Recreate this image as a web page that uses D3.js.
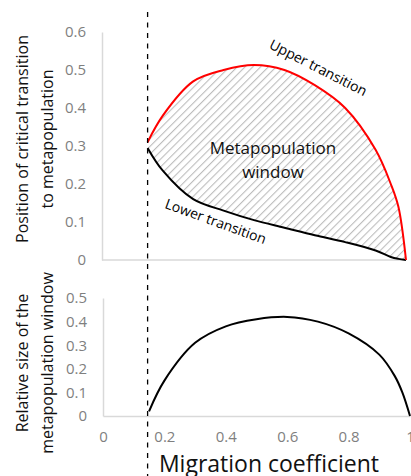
<!DOCTYPE html>
<html>
<head>
<meta charset="utf-8">
<script src="https://cdn.jsdelivr.net/npm/d3@7"></script>
<style>
  body { margin: 0; background: #fff; }
  svg { display: block; font-family: "Open Sans", sans-serif; }
</style>
</head>
<body>
<svg width="411" height="476"></svg>
<script>
// data
const migration = [0.15, 0.2, 0.3, 0.4, 0.5, 0.6, 0.7, 0.8, 0.9, 0.95, 0.975, 1.0];
const upperTransition = [0.31, 0.38, 0.47, 0.50, 0.513, 0.50, 0.46, 0.40, 0.29, 0.20, 0.14, 0.0];
const lowerTransition = [0.295, 0.235, 0.16, 0.13, 0.105, 0.085, 0.065, 0.047, 0.025, 0.008, 0.003, 0.0];
const windowSize = [0.02, 0.15, 0.31, 0.38, 0.41, 0.42, 0.40, 0.35, 0.26, 0.17, 0.10, 0.0];
const threshold = 0.15;

const topTicks = [0, 0.1, 0.2, 0.3, 0.4, 0.5, 0.6];
const bottomYTicks = [0, 0.1, 0.2, 0.3, 0.4, 0.5];
const bottomXTicks = [0, 0.2, 0.4, 0.6, 0.8, 1];

const svg = d3.select('svg');
const fmt = d3.format('~g');
const axisColor = '#d9d9d9';
const tickColor = '#7f7f7f';
const smooth = d3.curveCatmullRom.alpha(0.5);

// hatch pattern for the window
const pat = svg.append('defs').append('pattern')
    .attr('id', 'hatch')
    .attr('patternUnits', 'userSpaceOnUse')
    .attr('width', 5.5).attr('height', 5.5)
    .attr('patternTransform', 'rotate(45)');
pat.append('line')
    .attr('x1', 0).attr('y1', 0).attr('x2', 0).attr('y2', 5.5)
    .attr('stroke', '#bdbdbd').attr('stroke-width', 2.2);

// ---- top chart
const xTop = d3.scaleLinear().domain([0, 1]).range([102, 406]);
const yTop = d3.scaleLinear().domain([0, 0.6]).range([260, 32]);

const rows = migration.map((m, i) => ({m, up: upperTransition[i], lo: lowerTransition[i], w: windowSize[i]}));

svg.append('g')
    .attr('transform', 'translate(102,0)')
    .call(d3.axisLeft(yTop).tickValues(topTicks).tickFormat(fmt).tickSize(0).tickSizeOuter(0).tickPadding(16))
    .call(g => g.select('.domain').attr('stroke', axisColor).attr('stroke-width', 1.5))
    .call(g => g.selectAll('text').attr('fill', tickColor).attr('font-size', 15).attr('font-family', '"Open Sans", sans-serif'));

svg.append('line')
    .attr('x1', xTop(0)).attr('x2', xTop(1))
    .attr('y1', yTop(0)).attr('y2', yTop(0))
    .attr('stroke', axisColor).attr('stroke-width', 1.5);

const area = d3.area()
    .x(d => xTop(d.m))
    .y0(d => yTop(d.lo))
    .y1(d => yTop(d.up))
    .curve(smooth);

svg.append('path')
    .attr('d', area(rows))
    .attr('fill', 'url(#hatch)');

const upLine = d3.line().x(d => xTop(d.m)).y(d => yTop(d.up)).curve(smooth);
const loLine = d3.line().x(d => xTop(d.m)).y(d => yTop(d.lo)).curve(smooth);

svg.append('path').attr('d', loLine(rows))
    .attr('fill', 'none').attr('stroke', '#000').attr('stroke-width', 2);
svg.append('path').attr('d', upLine(rows))
    .attr('fill', 'none').attr('stroke', '#ff0000').attr('stroke-width', 2);

svg.append('text')
    .attr('transform', 'translate(316,72) rotate(27)')
    .attr('text-anchor', 'middle')
    .attr('font-size', 14)
    .text('Upper transition');

svg.append('text')
    .attr('transform', 'translate(214,226) rotate(20)')
    .attr('text-anchor', 'middle')
    .attr('font-size', 14)
    .text('Lower transition');

svg.append('text')
    .attr('x', 273).attr('y', 154)
    .attr('text-anchor', 'middle')
    .attr('font-size', 17)
    .attr('fill', '#111')
    .selectAll('tspan')
    .data(['Metapopulation', 'window']).enter()
    .append('tspan')
    .attr('x', 273)
    .attr('dy', (d, i) => i ? 24 : 0)
    .text(d => d);

svg.append('text')
    .attr('transform', 'translate(0,139) rotate(-90)')
    .attr('text-anchor', 'middle')
    .attr('font-size', 16)
    .attr('fill', '#111')
    .selectAll('tspan')
    .data(['Position of critical transition', 'to metapopulation']).enter()
    .append('tspan')
    .attr('x', 0)
    .attr('y', (d, i) => i ? 53 : 28)
    .text(d => d);

// ---- bottom chart
const xBot = d3.scaleLinear().domain([0, 1]).range([103, 410]);
const yBot = d3.scaleLinear().domain([0, 0.5]).range([416, 298]);

svg.append('g')
    .attr('transform', 'translate(103,0)')
    .call(d3.axisLeft(yBot).tickValues(bottomYTicks).tickFormat(fmt).tickSize(0).tickSizeOuter(0).tickPadding(16))
    .call(g => g.select('.domain').attr('stroke', axisColor).attr('stroke-width', 1.5))
    .call(g => g.selectAll('text').attr('fill', tickColor).attr('font-size', 15).attr('font-family', '"Open Sans", sans-serif'));

svg.append('g')
    .attr('transform', 'translate(0,416)')
    .call(d3.axisBottom(xBot).tickValues(bottomXTicks).tickFormat(fmt).tickSize(0).tickSizeOuter(0).tickPadding(15))
    .call(g => g.select('.domain').attr('stroke', axisColor).attr('stroke-width', 1.5))
    .call(g => g.selectAll('text').attr('fill', tickColor).attr('font-size', 15).attr('font-family', '"Open Sans", sans-serif'));

const sizeLine = d3.line().x(d => xBot(d.m)).y(d => yBot(d.w)).curve(smooth);
svg.append('path').attr('d', sizeLine(rows))
    .attr('fill', 'none').attr('stroke', '#000').attr('stroke-width', 2);

svg.append('text')
    .attr('transform', 'translate(0,363) rotate(-90)')
    .attr('text-anchor', 'middle')
    .attr('font-size', 16)
    .attr('fill', '#111')
    .selectAll('tspan')
    .data(['Relative size of the', 'metapopulation window']).enter()
    .append('tspan')
    .attr('x', 0)
    .attr('y', (d, i) => i ? 53 : 28)
    .text(d => d);

svg.append('text')
    .attr('x', 269).attr('y', 472)
    .attr('text-anchor', 'middle')
    .attr('font-size', 23)
    .attr('fill', '#111')
    .text('Migration coefficient');

// threshold dashed line across both panels
svg.append('line')
    .attr('x1', xTop(threshold)).attr('x2', xTop(threshold))
    .attr('y1', 12).attr('y2', 476)
    .attr('stroke', '#000').attr('stroke-width', 1.3)
    .attr('stroke-dasharray', '5,5.5');
</script>
</body>
</html>
